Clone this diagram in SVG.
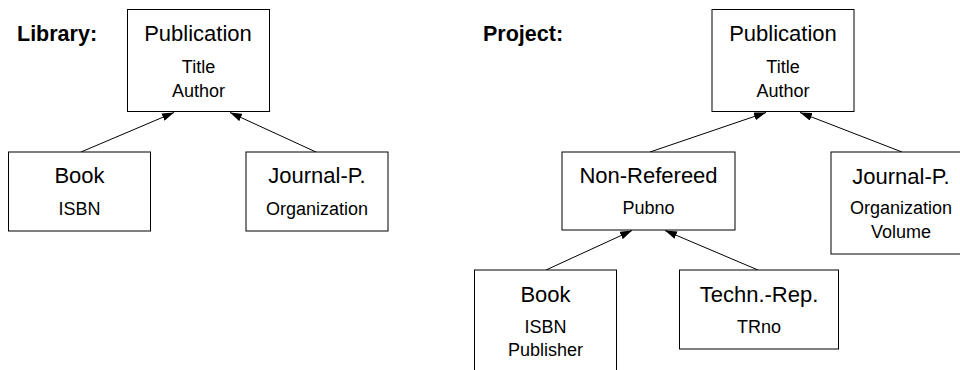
<svg xmlns="http://www.w3.org/2000/svg" width="960" height="370" viewBox="0 0 960 370">
<style>
  .box { fill: #fff; stroke: #000; stroke-width: 1; }
  .t { font-family: "Liberation Sans", Arial, sans-serif; font-size: 22px; fill: #000; text-anchor: middle; }
  .a { font-family: "Liberation Sans", Arial, sans-serif; font-size: 18px; fill: #000; text-anchor: middle; }
  .h { font-family: "Liberation Sans", Arial, sans-serif; font-size: 21.5px; font-weight: bold; fill: #000; }
  .c { stroke: #000; stroke-width: 1; fill: none; marker-end: url(#arr); }
</style>
<defs>
  <marker id="arr" markerUnits="userSpaceOnUse" markerWidth="12" markerHeight="8" refX="12" refY="4" orient="auto">
    <path d="M0,0 L12,4 L0,8 z" fill="#000"/>
  </marker>
</defs>
<rect width="960" height="370" fill="#fff"/>
<text class="h" x="17" y="41">Library:</text>
<text class="h" x="483" y="41">Project:</text>
<g id="connectors">
  <line class="c" x1="81" y1="152" x2="174" y2="112.5"/>
  <line class="c" x1="316" y1="152" x2="230" y2="112.5"/>
  <line class="c" x1="650" y1="152" x2="766" y2="112.5"/>
  <line class="c" x1="902" y1="152" x2="800" y2="112.5"/>
  <line class="c" x1="546" y1="270" x2="632" y2="230.5"/>
  <line class="c" x1="758" y1="270" x2="665" y2="230.5"/>
</g>
<g id="lib-publication">
  <rect class="box" x="127.5" y="9.5" width="142" height="102"/>
  <text class="t" x="198" y="41">Publication</text>
  <text class="a" x="198.5" y="72.5">Title</text>
  <text class="a" x="198.5" y="96.5">Author</text>
</g>
<g id="lib-book">
  <rect class="box" x="8.5" y="152" width="142" height="79"/>
  <text class="t" x="79.5" y="182.5">Book</text>
  <text class="a" x="79.5" y="215">ISBN</text>
</g>
<g id="lib-journal">
  <rect class="box" x="246" y="152" width="142" height="79"/>
  <text class="t" x="317" y="182.5">Journal-P.</text>
  <text class="a" x="317" y="215">Organization</text>
</g>
<g id="proj-publication">
  <rect class="box" x="712" y="9.5" width="142" height="102"/>
  <text class="t" x="783" y="41">Publication</text>
  <text class="a" x="783" y="72.5">Title</text>
  <text class="a" x="783" y="96.5">Author</text>
</g>
<g id="proj-nonrefereed">
  <rect class="box" x="562" y="152" width="173" height="78"/>
  <text class="t" x="648.5" y="183">Non-Refereed</text>
  <text class="a" x="648.5" y="214">Pubno</text>
</g>
<g id="proj-journal">
  <rect class="box" x="831" y="152" width="142" height="102"/>
  <text class="t" x="901" y="183.5">Journal-P.</text>
  <text class="a" x="901" y="214">Organization</text>
  <text class="a" x="901" y="238">Volume</text>
</g>
<g id="proj-book">
  <rect class="box" x="474.5" y="270" width="142" height="110"/>
  <text class="t" x="545.5" y="301.5">Book</text>
  <text class="a" x="545.5" y="333">ISBN</text>
  <text class="a" x="545.5" y="356">Publisher</text>
</g>
<g id="proj-techrep">
  <rect class="box" x="679.5" y="270" width="159" height="79"/>
  <text class="t" x="759" y="301.5">Techn.-Rep.</text>
  <text class="a" x="759" y="333">TRno</text>
</g>
</svg>
